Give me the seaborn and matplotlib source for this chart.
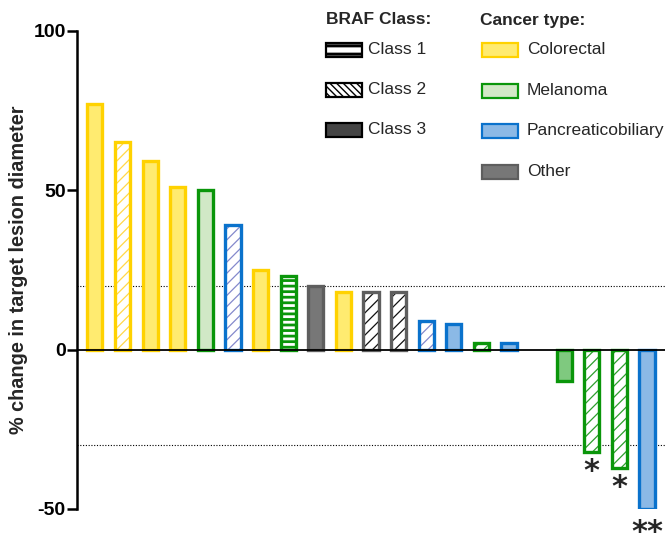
import matplotlib
matplotlib.use("Agg")
import matplotlib.pyplot as plt
from matplotlib.patches import Rectangle
import pandas as pd
import seaborn as sns

# ---- data ----
values = [77, 65, 59, 51, 50, 39, 25, 23, 20, 18, 18, 18, 9, 8, 2, 2, None, -10, -32, -37, -50]
cancer = ['Colorectal', 'Colorectal', 'Colorectal', 'Colorectal', 'Melanoma',
          'Pancreaticobiliary', 'Colorectal', 'Melanoma', 'Other', 'Colorectal',
          'Other', 'Other', 'Pancreaticobiliary', 'Pancreaticobiliary', 'Melanoma',
          'Pancreaticobiliary', None, 'Melanoma', 'Melanoma', 'Melanoma',
          'Pancreaticobiliary']
braf_class = [3, 2, 3, 3, 3, 2, 3, 1, 3, 3, 2, 2, 2, 3, 2, 3, None, 3, 2, 2, 3]
stars = ['', '', '', '', '', '', '', '', '', '', '', '', '', '', '', '', '', '', '*', '*', '**']

class_names = ['Class 1', 'Class 2', 'Class 3']
cancer_names = ['Colorectal', 'Melanoma', 'Pancreaticobiliary', 'Other']

# colours per cancer type
edge_col = {'Colorectal': '#FFD200', 'Melanoma': '#0A960A',
            'Pancreaticobiliary': '#0A72CC', 'Other': '#5E5E5E'}
fill_col = {'Colorectal': '#FFEB70', 'Melanoma': '#D1E8C6',
            'Pancreaticobiliary': '#8BB9E6', 'Other': '#777777'}
hatch_col = {'Colorectal': '#FFD84A', 'Melanoma': '#2E9E2E',
             'Pancreaticobiliary': '#8489CC', 'Other': '#111111'}
fill_override = {17: '#7FC97F'}

slots = [f'p{i}' for i in range(len(values))]
df = pd.DataFrame({'slot': slots, 'value': values})
df_drawn = df.dropna()

sns.set_style('white')
plt.rcParams['font.family'] = ['Liberation Sans', 'DejaVu Sans']

fig = plt.figure(figsize=(6.69, 5.35), dpi=100)
ax = fig.add_axes([0.115, 0.0486, 0.879, 0.894])

sns.barplot(data=df_drawn, x='slot', y='value', order=slots, width=0.55,
            ax=ax, errorbar=None, color='white', saturation=1)

bar_lw = 2.4
for p in list(ax.patches):
    i = int(round(p.get_x() + p.get_width() / 2))
    c, k = cancer[i], braf_class[i]
    p.set_linewidth(bar_lw)
    if k == 3:
        p.set_facecolor(fill_override.get(i, fill_col[c]))
        p.set_edgecolor(edge_col[c])
    elif k == 2:
        p.set_facecolor('white')
        p.set_edgecolor(hatch_col[c])
        p.set_hatch('///')
        p.set_linewidth(0)
        if hasattr(p, 'set_hatch_linewidth'):
            p.set_hatch_linewidth(0.9)
        ax.add_patch(Rectangle((p.get_x(), p.get_y()), p.get_width(), p.get_height(),
                               facecolor='none', edgecolor=edge_col[c], linewidth=bar_lw,
                               zorder=p.get_zorder() + 0.1))
    else:
        p.set_facecolor('white')
        p.set_edgecolor(edge_col[c])
        p.set_hatch('---')
        if hasattr(p, 'set_hatch_linewidth'):
            p.set_hatch_linewidth(2.0)

# significance markers below the responding bars
star_fs = 22
star_px = star_fs * 100 / 72
for i, s in enumerate(stars):
    if s:
        gap = 12 if len(s) == 1 else 15
        ax.annotate(s, xy=(i, values[i]), xytext=(0, -(gap + 0.55 * star_px)),
                    textcoords='offset pixels', ha='center', va='baseline',
                    fontsize=star_fs, fontweight='bold', family='DejaVu Sans',
                    annotation_clip=False)

ax.axhline(0, color='black', lw=1.3, zorder=5)
ax.axhline(20, color='black', lw=0.8, ls=(0, (1, 1.5)), zorder=0)
ax.axhline(-30, color='black', lw=0.8, ls=(0, (1, 1.5)), zorder=0)

ax.set_ylim(-50, 100)
ax.set_xlim(-0.65, len(values) - 0.35)
ax.set_yticks([-50, 0, 50, 100])
ax.set_yticklabels(['-50', '0', '50', '100'], fontsize=14, fontweight='bold')
ax.set_xticks([])
ax.set_xlabel('')
ax.set_ylabel('% change in target lesion diameter', fontsize=14.3, fontweight='bold',
              labelpad=4)
for side in ['top', 'right', 'bottom']:
    ax.spines[side].set_visible(False)
ax.spines['left'].set_linewidth(1.8)
ax.spines['left'].set_color('black')
ax.tick_params(axis='y', direction='out', length=7, width=1.8, pad=1, colors='black',
               left=True)

# ---- hand-built legend in figure pixels ----
W, H = 669, 535


def fx(x):
    return x / W


def fy(y):
    return 1 - y / H


fig.text(fx(326), fy(20), 'BRAF Class:', fontsize=12.5, fontweight='bold', va='center')
fig.text(fx(480), fy(20), 'Cancer type:', fontsize=12.5, fontweight='bold', va='center')

class_style = [dict(facecolor='white', hatch='--'),
               dict(facecolor='white', hatch='\\\\\\\\\\'),
               dict(facecolor='#444444')]
for j, name in enumerate(class_names):
    yc = 50 + 40 * j
    r = Rectangle((fx(326), fy(yc + 7)), fx(36), 14 / H, edgecolor='black',
                  linewidth=1.6, transform=fig.transFigure, **class_style[j])
    if j == 0 and hasattr(r, 'set_hatch_linewidth'):
        r.set_hatch_linewidth(2.2)
    fig.add_artist(r)
    fig.text(fx(368), fy(yc), name, fontsize=12.5, va='center')

for j, name in enumerate(cancer_names):
    yc = 50 + 40.5 * j
    r = Rectangle((fx(482), fy(yc + 7)), fx(36), 14 / H, facecolor=fill_col[name],
                  edgecolor=edge_col[name], linewidth=1.6, transform=fig.transFigure)
    fig.add_artist(r)
    fig.text(fx(527), fy(yc), name, fontsize=12.5, va='center')

fig.savefig('out.png', dpi=100)
